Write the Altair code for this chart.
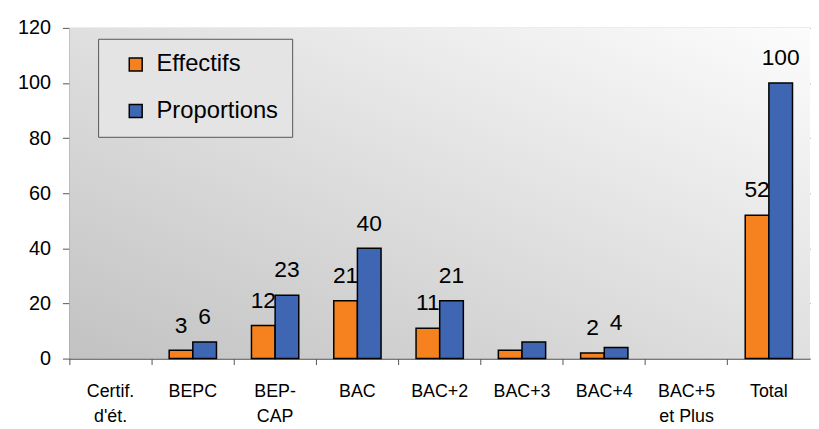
import altair as alt
import pandas as pd

categories = ["Certif.\nd'ét.", "BEPC", "BEP-\nCAP", "BAC", "BAC+2", "BAC+3", "BAC+4", "BAC+5\net Plus", "Total"]
effectifs = [0, 3, 12, 21, 11, 3, 2, 0, 52]
proportions = [0, 6, 23, 40, 21, 6, 4, 0, 100]
show_label = [False, True, True, True, True, False, True, False, True]
series = ["Effectifs", "Proportions"]
colors = ["#F5821F", "#3F66B2"]

rows = []
for i, c in enumerate(categories):
    for s, vals in zip(series, [effectifs, proportions]):
        rows.append({"cat": c, "serie": s, "val": vals[i],
                     "label": str(vals[i]) if show_label[i] else ""})
df = pd.DataFrame(rows)

W, H = 748, 334

xenc = alt.X("cat:N", sort=categories,
             scale=alt.Scale(paddingInner=0, paddingOuter=0),
             axis=alt.Axis(title=None, labelAngle=0, bandPosition=0, grid=False,
                           labelExpr="split(datum.label, '\\n')",
                           labelFontSize=18, labelFont="Liberation Sans", labelColor="#000",
                           labelPadding=18, labelLineHeight=26, labelBaseline="top",
                           domainColor="#555", tickColor="#555", tickSize=6))
xoff = alt.XOffset("serie:N", sort=series, scale=alt.Scale(paddingInner=0, paddingOuter=0.74))
yenc = alt.Y("val:Q", scale=alt.Scale(domain=[0, 120], nice=False),
             axis=alt.Axis(title=None, values=[0, 20, 40, 60, 80, 100, 120],
                           labelFontSize=20, labelFont="Liberation Sans", labelColor="#000",
                           gridColor="#6e6e6e", gridWidth=1, domainColor="#555",
                           tickColor="#555", tickSize=7, labelPadding=12))

bg = alt.Chart(pd.DataFrame({"a": [0]})).mark_rect(
    color=alt.Gradient(gradient="linear", x1=1, y1=0, x2=0, y2=1,
                       stops=[alt.GradientStop(color="#fcfcfc", offset=0),
                              alt.GradientStop(color="#c2c2c2", offset=1)])
).encode(x=alt.value(0), x2=alt.value(W), y=alt.value(0), y2=alt.value(H))

bars = alt.Chart(df).transform_filter("datum.val > 0").mark_bar(
    stroke="#000", strokeWidth=1.5).encode(
    x=xenc, xOffset=xoff, y=yenc,
    color=alt.Color("serie:N", sort=series, scale=alt.Scale(domain=series, range=colors),
                    legend=alt.Legend(title=None, orient="none", legendX=29, legendY=11,
                                      fillColor="#e4e4e4", strokeColor="#555",
                                      padding=14, rowPadding=23, symbolType="square",
                                      symbolSize=170, symbolStrokeColor="#000",
                                      symbolStrokeWidth=1.5, labelFontSize=24,
                                      labelFont="Liberation Sans", labelColor="#000",
                                      labelLimit=300, symbolOffset=12, columnPadding=0,
                                      labelOffset=9)),
)

labels = alt.Chart(df).mark_text(fontSize=23, font="Liberation Sans", color="#000",
                                 baseline="alphabetic", dy=-18).encode(
    x=alt.X("cat:N", sort=categories), xOffset=alt.XOffset("serie:N", sort=series),
    y="val:Q", text="label:N")

chart = alt.layer(bg, bars, labels).properties(
    width=W, height=H,
    autosize=alt.AutoSizeParams(type="none"),
    padding={"left": 62, "top": 18, "right": 1, "bottom": 67},
).configure_view(stroke=None)

chart.save("out.html", embed_options={"renderer": "svg", "actions": False})
